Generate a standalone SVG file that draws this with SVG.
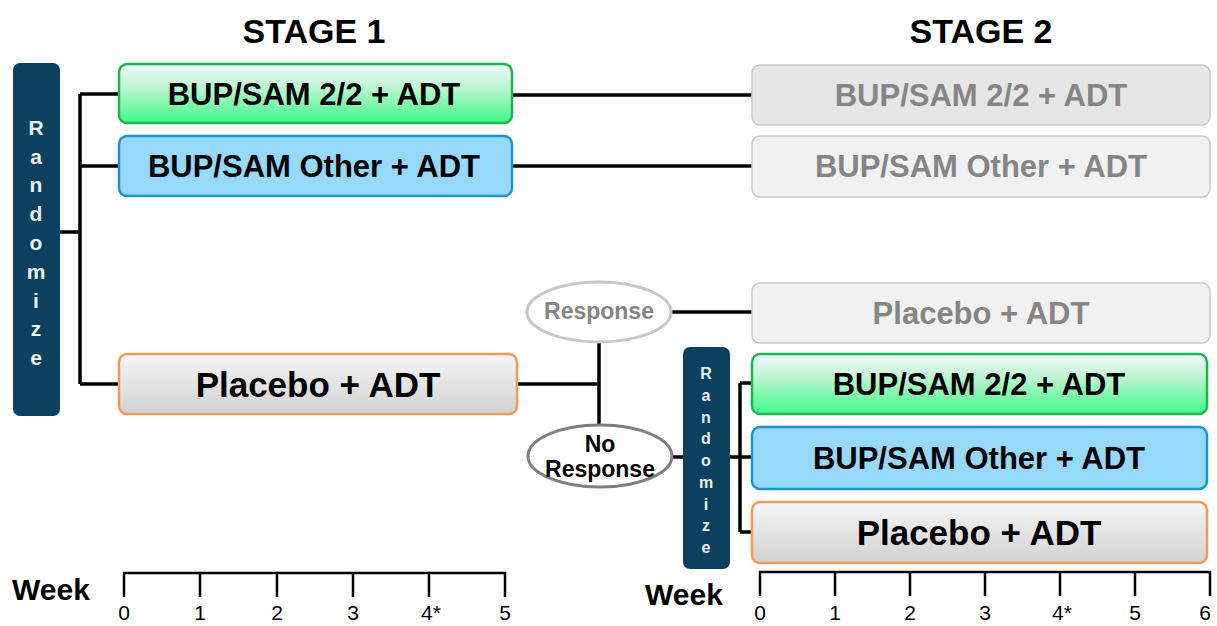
<svg xmlns="http://www.w3.org/2000/svg" width="1217" height="626" viewBox="0 0 1217 626">
  <defs>
    <linearGradient id="gGreen" x1="0" y1="0" x2="0" y2="1">
      <stop offset="0" stop-color="#eef8fc"/>
      <stop offset="0.35" stop-color="#c6f5d6"/>
      <stop offset="1" stop-color="#3ff98a"/>
    </linearGradient>
    <linearGradient id="gGrey" x1="0" y1="0" x2="0" y2="1">
      <stop offset="0" stop-color="#f5f5f5"/>
      <stop offset="1" stop-color="#d2d2d2"/>
    </linearGradient>
  </defs>
  <style>
    text { font-family: "Liberation Sans", Arial, sans-serif; font-weight: bold; }
    .title { font-size: 34px; fill: #000; text-anchor: middle; }
    .lbl { font-size: 31px; fill: #000; text-anchor: middle; }
    .lblBig { font-size: 35px; fill: #000; text-anchor: middle; }
    .lblGrey { font-size: 31px; fill: #858585; text-anchor: middle; }
    .rand { fill: #0d3f5e; }
    .randTxt { fill: #e8f2f8; text-anchor: middle; }
    .green { fill: url(#gGreen); stroke: #1db652; stroke-width: 2.5; }
    .blue { fill: #97d9fb; stroke: #1b93d4; stroke-width: 2.5; }
    .plac { fill: url(#gGrey); stroke: #f59a55; stroke-width: 2.5; }
    .ghost1 { fill: #e6e6e6; stroke: #c9c9c9; stroke-width: 1.5; }
    .ghost2 { fill: #f1f1f1; stroke: #c9c9c9; stroke-width: 1.5; }
    .conn { fill: none; stroke: #000; stroke-width: 3.5; }
    .axis { fill: none; stroke: #000; stroke-width: 2.5; }
    .tick { font-weight: normal; font-size: 21px; fill: #000; text-anchor: middle; }
    .week { font-size: 30px; fill: #000; }
  </style>

  <!-- stage headings -->
  <text class="title" x="314" y="43">STAGE 1</text>
  <text class="title" x="981" y="43">STAGE 2</text>

  <!-- connectors -->
  <g id="connectors">
    <path class="conn" d="M60 232 H80 M80 94 V384 M80 94 H119 M80 166 H119 M80 384 H119"/>
    <path class="conn" d="M512 95 H752 M512 166 H752"/>
    <path class="conn" d="M517 384 H599 M599 342 V425"/>
    <path class="conn" d="M671 312 H752"/>
    <path class="conn" d="M673 457 H683 M730 457 H752 M740 383 V532 M740 383 H752 M740 532 H752"/>
  </g>

  <!-- stage 1 randomisation -->
  <g id="randomize1">
    <rect class="rand" x="13" y="63" width="47" height="353" rx="7"/>
    <g class="randTxt" font-size="21">
      <text x="36" y="135">R</text>
      <text x="36" y="164">a</text>
      <text x="36" y="192">n</text>
      <text x="36" y="221">d</text>
      <text x="36" y="250">o</text>
      <text x="36" y="279">m</text>
      <text x="36" y="308">i</text>
      <text x="36" y="336">z</text>
      <text x="36" y="365">e</text>
    </g>
  </g>

  <!-- stage 1 arms -->
  <g id="s1-bup22">
    <rect class="green" x="119" y="64" width="393" height="59" rx="8"/>
    <text class="lbl" x="314" y="105">BUP/SAM 2/2 + ADT</text>
  </g>
  <g id="s1-bupother">
    <rect class="blue" x="119" y="136" width="393" height="60" rx="8"/>
    <text class="lbl" x="314" y="177">BUP/SAM Other + ADT</text>
  </g>
  <g id="s1-placebo">
    <rect class="plac" x="119" y="354" width="398" height="60" rx="8"/>
    <text class="lblBig" x="318" y="397">Placebo + ADT</text>
  </g>

  <!-- response split -->
  <g id="response">
    <ellipse cx="599" cy="312" rx="72" ry="30" fill="#fff" stroke="#c8c8c8" stroke-width="3"/>
    <text x="599" y="319" font-size="23" fill="#858585" text-anchor="middle">Response</text>
  </g>
  <g id="no-response">
    <ellipse cx="600" cy="456" rx="72" ry="31" fill="#fff" stroke="#7f7f7f" stroke-width="3"/>
    <text x="600" y="452" font-size="23" fill="#000" text-anchor="middle">No</text>
    <text x="600" y="477" font-size="23" fill="#000" text-anchor="middle">Response</text>
  </g>

  <!-- stage 2 continuation arms -->
  <g id="s2-bup22-cont">
    <rect class="ghost1" x="752" y="65" width="458" height="60" rx="8"/>
    <text class="lblGrey" x="981" y="106">BUP/SAM 2/2 + ADT</text>
  </g>
  <g id="s2-bupother-cont">
    <rect class="ghost2" x="752" y="136" width="458" height="61" rx="8"/>
    <text class="lblGrey" x="981" y="177">BUP/SAM Other + ADT</text>
  </g>
  <g id="s2-placebo-cont">
    <rect class="ghost2" x="752" y="283" width="458" height="60" rx="8"/>
    <text class="lblGrey" x="981" y="324">Placebo + ADT</text>
  </g>

  <!-- stage 2 re-randomisation -->
  <g id="randomize2">
    <rect class="rand" x="683" y="347" width="47" height="222" rx="7"/>
    <g class="randTxt" font-size="16">
      <text x="706" y="379">R</text>
      <text x="706" y="401">a</text>
      <text x="706" y="423">n</text>
      <text x="706" y="444">d</text>
      <text x="706" y="466">o</text>
      <text x="706" y="488">m</text>
      <text x="706" y="510">i</text>
      <text x="706" y="531">z</text>
      <text x="706" y="553">e</text>
    </g>
  </g>

  <!-- stage 2 arms -->
  <g id="s2-bup22">
    <rect class="green" x="752" y="354" width="455" height="60" rx="8"/>
    <text class="lbl" x="979" y="395">BUP/SAM 2/2 + ADT</text>
  </g>
  <g id="s2-bupother">
    <rect class="blue" x="752" y="427" width="455" height="62" rx="8"/>
    <text class="lbl" x="979" y="469">BUP/SAM Other + ADT</text>
  </g>
  <g id="s2-placebo">
    <rect class="plac" x="752" y="502" width="455" height="61" rx="8"/>
    <text class="lblBig" x="979" y="545">Placebo + ADT</text>
  </g>

  <!-- week axes -->
  <g id="axis1">
    <text class="week" x="12" y="600">Week</text>
    <path class="axis" d="M124 597 V573 H505 V597 M200 573 V597 M277 573 V597 M353 573 V597 M429 573 V597"/>
    <text class="tick" x="124" y="620">0</text>
    <text class="tick" x="200" y="620">1</text>
    <text class="tick" x="277" y="620">2</text>
    <text class="tick" x="353" y="620">3</text>
    <text class="tick" x="431" y="620">4*</text>
    <text class="tick" x="505" y="620">5</text>
  </g>
  <g id="axis2">
    <text class="week" x="645" y="605">Week</text>
    <path class="axis" d="M760 596 V572 H1210 V596 M835 572 V596 M910 572 V596 M985 572 V596 M1060 572 V596 M1135 572 V596"/>
    <text class="tick" x="760" y="620">0</text>
    <text class="tick" x="835" y="620">1</text>
    <text class="tick" x="910" y="620">2</text>
    <text class="tick" x="985" y="620">3</text>
    <text class="tick" x="1062" y="620">4*</text>
    <text class="tick" x="1135" y="620">5</text>
    <text class="tick" x="1205" y="620">6</text>
  </g>
</svg>
